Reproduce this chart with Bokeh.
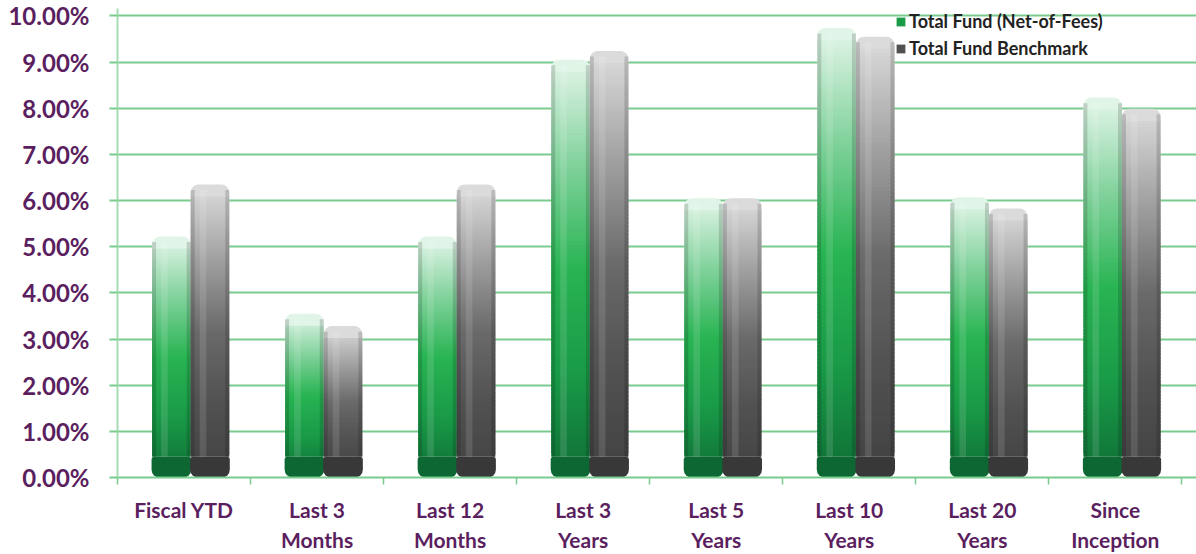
import numpy as np
from bokeh.plotting import figure
from bokeh.models import (ColumnDataSource, FixedTicker, PrintfTickFormatter, Range1d,
                          Legend, LegendItem)
from bokeh.embed import file_html
from bokeh.resources import INLINE

# ---------------- data ----------------
categories = ["Fiscal YTD", "Last 3\nMonths", "Last 12\nMonths", "Last 3\nYears",
              "Last 5\nYears", "Last 10\nYears", "Last 20\nYears", "Since\nInception"]
fund = [5.22, 3.55, 5.22, 9.05, 6.05, 9.74, 6.07, 8.23]
bench = [6.35, 3.28, 6.35, 9.24, 6.05, 9.55, 5.83, 7.99]
series_names = ["Total Fund (Net-of-Fees)", "Total Fund Benchmark"]
y_ticks = list(range(0, 11))

# ---------------- style ----------------
PURPLE = "#5b1f5f"
GRID = "#79cc8e"
FONT = "Lato"
green_stops = [(0.0, "#0f6e36"), (0.25, "#199a47"), (0.5, "#29b453"), (0.75, "#82d29c"), (1.0, "#e4f6ea")]
gray_stops = [(0.0, "#414141"), (0.25, "#515151"), (0.5, "#6a6a6a"), (0.75, "#a2a2a2"), (1.0, "#dddddd")]
cap_colors = ["#0d6733", "#383838"]
BAR_W = 0.29
OFFSETS = [-0.095, 0.195]
CAP_H = 0.45
TOP_H = 0.25
N = 100
RAD = 8


def hex2rgb(h):
    h = h.lstrip("#")
    return np.array([int(h[i:i + 2], 16) for i in (0, 2, 4)], dtype=float)


def interp(stops, f):
    for (f0, c0), (f1, c1) in zip(stops[:-1], stops[1:]):
        if f0 <= f <= f1:
            t = (f - f0) / (f1 - f0)
            c = hex2rgb(c0) * (1 - t) + hex2rgb(c1) * t
            return "#%02x%02x%02x" % tuple(int(round(v)) for v in c)
    return stops[-1][1]


p = figure(width=1196, height=554, output_backend="svg", toolbar_location=None,
           x_range=Range1d(0, 8.11), y_range=Range1d(0, 10.16),
           min_border_left=117, min_border_top=8, min_border_bottom=76, min_border_right=0)
p.outline_line_color = None
p.background_fill_color = "white"
p.border_fill_color = "white"

legend_items = []
for s, (vals, stops) in enumerate(zip([fund, bench], [green_stops, gray_stops])):
    xs, bots, tops, cols = [], [], [], []
    for i, v in enumerate(vals):
        xc = i + 0.5 + OFFSETS[s]
        lo, hi = CAP_H, v - TOP_H
        edges = np.linspace(lo, hi, N + 1)
        step = edges[1] - edges[0]
        for k in range(N):
            xs.append(xc)
            bots.append(edges[k])
            tops.append(min(edges[k + 1] + step * 0.8, hi + 0.02))
            fm = ((edges[k] + edges[k + 1]) / 2) / v
            cols.append(interp(stops, fm))
    src = ColumnDataSource(dict(x=xs, bottom=bots, top=tops, color=cols))
    r = p.vbar(x="x", bottom="bottom", top="top", width=BAR_W, source=src,
               fill_color="color", line_color=None)

    # top rounded piece
    xc_list = [i + 0.5 + OFFSETS[s] for i in range(len(vals))]
    top_src = ColumnDataSource(dict(x=xc_list, bottom=[v - TOP_H - 0.01 for v in vals], top=vals,
                                    color=[interp(stops, 0.99)] * len(vals)))
    p.vbar(x="x", bottom="bottom", top="top", width=BAR_W, source=top_src,
           fill_color="color", line_color=None, border_radius=(RAD, RAD, 0, 0))

    # bottom cap
    cap_src = ColumnDataSource(dict(x=xc_list, bottom=[0] * len(vals), top=[CAP_H] * len(vals)))
    p.vbar(x="x", bottom="bottom", top="top", width=BAR_W + 0.008, source=cap_src,
           fill_color=cap_colors[s], line_color=None, border_radius=(3, 3, RAD, RAD))

    # cylinder shading: dark edges + highlight
    ew = 0.03
    edge_src = ColumnDataSource(dict(
        x=[xc - BAR_W / 2 + ew / 2 for xc in xc_list] + [xc + BAR_W / 2 - ew / 2 for xc in xc_list],
        bottom=[CAP_H] * (2 * len(vals)),
        top=[v - 0.12 for v in vals] * 2))
    p.vbar(x="x", bottom="bottom", top="top", width=ew, source=edge_src,
           fill_color="black", fill_alpha=0.15, line_color=None)
    hl_src = ColumnDataSource(dict(x=[xc - BAR_W * 0.18 for xc in xc_list],
                                   bottom=[CAP_H] * len(vals), top=[v - 0.12 for v in vals]))
    p.vbar(x="x", bottom="bottom", top="top", width=0.05, source=hl_src,
           fill_color="white", fill_alpha=0.12, line_color=None)

    legend_items.append(LegendItem(label=series_names[s], renderers=[r], index=20))

# ---------------- axes ----------------
yax = p.yaxis[0]
yax.ticker = FixedTicker(ticks=y_ticks)
yax.formatter = PrintfTickFormatter(format="%.2f%%")
yax.axis_line_color = "#a6dcb3"
yax.axis_line_width = 2
yax.major_tick_line_color = GRID
yax.major_tick_line_width = 2
yax.major_tick_out = 8
yax.major_tick_in = 0
yax.minor_tick_line_color = None
yax.major_label_text_font = FONT
yax.major_label_text_font_style = "bold"
yax.major_label_text_font_size = "24px"
yax.major_label_text_color = PURPLE
yax.major_label_standoff = 20

xax = p.xaxis[0]
centers = [i + 0.5 for i in range(len(categories))]
xax.ticker = FixedTicker(ticks=centers, minor_ticks=list(range(len(categories) + 1)))
xax.major_label_overrides = {c: lab for c, lab in zip(centers, categories)}
xax.axis_line_color = GRID
xax.axis_line_width = 2
xax.major_tick_line_color = None
xax.minor_tick_line_color = GRID
xax.minor_tick_line_width = 1.5
xax.minor_tick_out = 7
xax.minor_tick_in = 0
xax.major_label_text_font = FONT
xax.major_label_text_font_style = "bold"
xax.major_label_text_font_size = "21px"
xax.major_label_text_color = PURPLE
xax.major_label_standoff = 12

p.xgrid.grid_line_color = None
p.ygrid.ticker = FixedTicker(ticks=y_ticks)
p.ygrid.grid_line_color = GRID
p.ygrid.grid_line_width = 2

legend = Legend(items=legend_items, location=(778, 418), orientation="vertical",
                label_text_font=FONT, label_text_font_style="bold", label_text_font_size="18px",
                label_text_color="#222222", glyph_width=11, glyph_height=11, label_standoff=3,
                spacing=5, padding=0, margin=0, border_line_color=None,
                background_fill_color="white", background_fill_alpha=0.0)
p.add_layout(legend, "center")

open("out.html", "w").write(file_html(p, INLINE))
